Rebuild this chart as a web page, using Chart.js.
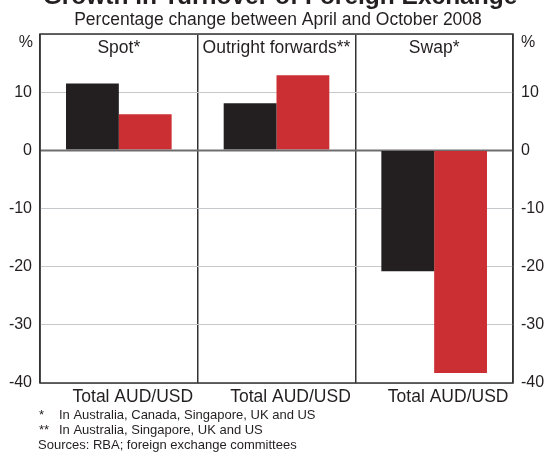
<!DOCTYPE html>
<html>
<head>
<meta charset="utf-8">
<script src="https://cdn.jsdelivr.net/npm/chart.js@4"></script>
<style>
html,body{margin:0;padding:0;background:#fff;}
canvas{display:block;}
</style>
</head>
<body>
<canvas id="c" width="549" height="459"></canvas>
<script>
const chartTitle = 'Growth in Turnover of Foreign Exchange';
const chartSubtitle = 'Percentage change between April and October 2008';
const panels = ['Spot*', 'Outright forwards**', 'Swap*'];
const seriesNames = ['Total', 'AUD/USD'];
const totalValues = [11.5, 8.1, -20.8];
const audusdValues = [6.2, 12.9, -38.3];
const yTicks = [-40, -30, -20, -10, 0, 10, 20];
const unitLabel = '%';
const footnotes = [
  ['*', 'In Australia, Canada, Singapore, UK and US'],
  ['**', 'In Australia, Singapore, UK and US'],
  ['', 'Sources: RBA; foreign exchange committees']
];

const FONT = "'Liberation Sans', Arial, Helvetica, sans-serif";
const TXT = '#231f20';

const decor = {
  id: 'decor',
  afterDraw(chart) {
    const ctx = chart.ctx;
    const a = chart.chartArea;
    const x = chart.scales.x;
    const y = chart.scales.y;
    ctx.save();
    // zero line over bars
    ctx.strokeStyle = '#6e6e6e';
    ctx.lineWidth = 1.5;
    const y0 = y.getPixelForValue(0);
    ctx.beginPath();
    ctx.moveTo(a.left, y0);
    ctx.lineTo(a.right, y0);
    ctx.stroke();
    // box
    ctx.strokeStyle = '#333333';
    ctx.lineWidth = 1.5;
    ctx.strokeRect(a.left, a.top, a.right - a.left, a.bottom - a.top);
    ctx.fillStyle = TXT;
    // title (cut at top like reference)
    ctx.font = "bold 24.5px " + FONT;
    ctx.textAlign = 'center';
    ctx.textBaseline = 'alphabetic';
    ctx.fillText(chartTitle, 280, 4);
    ctx.font = "17.5px " + FONT;
    ctx.fillText(chartSubtitle, 278, 25);
    // panel titles
    ctx.font = "17.5px " + FONT;
    panels.forEach((p, i) => {
      ctx.fillText(p, x.getPixelForValue(i), 53);
    });
    // unit labels
    ctx.font = "16px " + FONT;
    ctx.textBaseline = 'middle';
    ctx.textAlign = 'right';
    ctx.fillText(unitLabel, a.left - 7, 43);
    ctx.textAlign = 'left';
    ctx.fillText(unitLabel, a.right + 8, 43);
    // footnotes
    ctx.font = "13px " + FONT;
    footnotes.forEach((f, i) => {
      const yy = 415 + i * 15;
      if (f[0]) {
        ctx.fillText(f[0], 39, yy);
        ctx.fillText(f[1], 59, yy);
      } else {
        ctx.fillText(f[1], 38, yy);
      }
    });
    ctx.restore();
  }
};

const yTickCb = (v) => (v === 20 ? '' : v);

new Chart(document.getElementById('c'), {
  type: 'bar',
  data: {
    labels: panels,
    datasets: [
      { label: seriesNames[0], data: totalValues, backgroundColor: '#231f20', categoryPercentage: 0.67, barPercentage: 1.0, yAxisID: 'y' },
      { label: seriesNames[1], data: audusdValues, backgroundColor: '#cb2f33', categoryPercentage: 0.67, barPercentage: 1.0, yAxisID: 'y' }
    ]
  },
  options: {
    responsive: false,
    devicePixelRatio: 1,
    animation: false,
    layout: { padding: { top: 34, left: 0, right: 0, bottom: 0 } },
    plugins: { legend: { display: false }, tooltip: { enabled: false }, title: { display: false } },
    scales: {
      x: {
        position: 'bottom',
        offset: true,
        grid: { offset: true, color: '#333333', lineWidth: 1.5, drawTicks: false },
        border: { display: false },
        ticks: {
          color: TXT,
          font: { family: FONT, size: 17.5 },
          padding: 4,
          labelOffset: 14,
          maxRotation: 0,
          autoSkip: false,
          callback: () => seriesNames.join(' ')
        },
        afterFit: (s) => { s.height = 76; }
      },
      y: {
        position: 'left',
        min: -40, max: 20,
        afterBuildTicks: (s) => { s.ticks = yTicks.map(v => ({ value: v })); },
        grid: {
          drawTicks: false,
          color: (c) => (c.tick && c.tick.value === 0 ? '#6e6e6e' : '#c6c9cc'),
          lineWidth: (c) => (c.tick && c.tick.value === 0 ? 1.5 : 1)
        },
        border: { display: false },
        ticks: { color: TXT, font: { family: FONT, size: 16 }, padding: 8, callback: yTickCb },
        afterFit: (s) => { s.width = 40; }
      },
      y2: {
        position: 'right',
        min: -40, max: 20,
        afterBuildTicks: (s) => { s.ticks = yTicks.map(v => ({ value: v })); },
        grid: { display: false, drawTicks: false },
        border: { display: false },
        ticks: { color: TXT, font: { family: FONT, size: 16 }, padding: 8, callback: yTickCb },
        afterFit: (s) => { s.width = 36; }
      }
    }
  },
  plugins: [decor]
});
</script>
</body>
</html>
